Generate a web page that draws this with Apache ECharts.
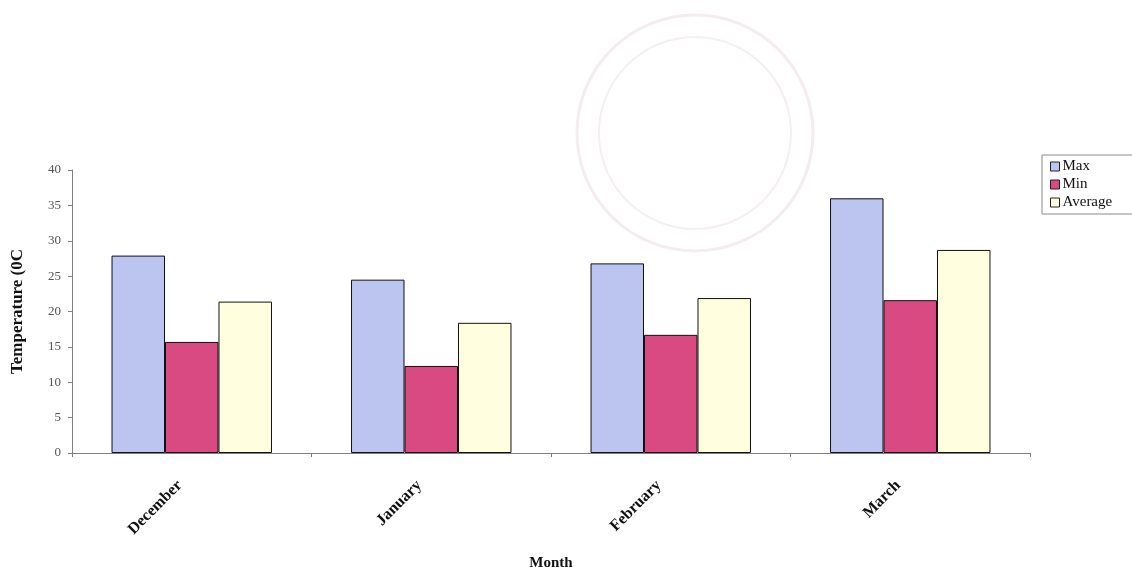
<!DOCTYPE html>
<html>
<head>
<meta charset="utf-8">
<script src="https://cdn.jsdelivr.net/npm/echarts@6/dist/echarts.min.js"></script>
<style>
  html, body { margin: 0; padding: 0; background: #fff; }
  #chart { width: 1132px; height: 569px; }
</style>
</head>
<body>
<div id="chart"></div>
<script>
// Monthly temperatures (°C)
const months = ['December', 'January', 'February', 'March'];
const maxTemp = [27.9, 24.5, 26.8, 36.0];
const minTemp = [15.7, 12.3, 16.7, 21.6];
const avgTemp = [21.4, 18.4, 21.9, 28.7];
const yTicks = { min: 0, max: 40, interval: 5 };

const serif = '"Liberation Serif", "DejaVu Serif", serif';

const chart = echarts.init(document.getElementById('chart'), null, { renderer: 'canvas' });

function barSeries(name, data, color) {
  return {
    name: name,
    type: 'bar',
    data: data,
    barGap: '0%',
    barCategoryGap: '33%',
    itemStyle: { color: color, borderColor: '#111', borderWidth: 1 },
    emphasis: { disabled: true }
  };
}

chart.setOption({
  animation: false,
  backgroundColor: '#ffffff',
  graphic: [
    // faint rubber stamp in the background
    { type: 'circle', z: -10, shape: { cx: 695, cy: 133, r: 118 },
      style: { fill: 'none', stroke: '#f4ecf0', lineWidth: 3 } },
    { type: 'circle', z: -10, shape: { cx: 695, cy: 133, r: 96 },
      style: { fill: 'none', stroke: '#f5eef2', lineWidth: 2 } }
  ],
  legend: {
    orient: 'vertical',
    left: 1042,
    top: 155,
    padding: [4, 24, 4, 8],
    itemGap: 3,
    itemWidth: 9,
    itemHeight: 9,
    icon: 'rect',
    borderColor: '#8a8a8a',
    borderWidth: 1,
    textStyle: { fontFamily: serif, fontSize: 15, color: '#111', padding: [0, 0, 0, -2] },
    data: ['Max', 'Min', 'Average'],
    itemStyle: { borderColor: '#222', borderWidth: 1 }
  },
  grid: { left: 72, right: 102, top: 170, bottom: 116, containLabel: false, outerBoundsMode: 'none' },
  xAxis: {
    type: 'category',
    data: months,
    name: 'Month',
    nameLocation: 'middle',
    nameGap: 103,
    nameTextStyle: { fontFamily: serif, fontSize: 15, fontWeight: 'bold', color: '#111' },
    axisLine: { lineStyle: { color: '#808080', width: 1 } },
    axisTick: { show: true, length: 4, lineStyle: { color: '#808080' } },
    axisLabel: {
      rotate: 45,
      margin: 18,
      padding: [0, 17, 0, 0],
      fontFamily: serif,
      fontSize: 16,
      fontWeight: 700,
      color: '#111'
    },
    splitLine: { show: false }
  },
  yAxis: {
    type: 'value',
    min: yTicks.min,
    max: yTicks.max,
    interval: yTicks.interval,
    name: 'Temperature (0C',
    nameLocation: 'middle',
    nameGap: 46,
    nameRotate: 90,
    nameTextStyle: { fontFamily: serif, fontSize: 17, fontWeight: 'bold', color: '#111' },
    axisLine: { show: true, lineStyle: { color: '#808080', width: 1 } },
    axisTick: { show: true, length: 4, lineStyle: { color: '#808080' } },
    axisLabel: { fontFamily: serif, fontSize: 13, color: '#555', margin: 11 },
    splitLine: { show: false }
  },
  series: [
    barSeries('Max', maxTemp, '#bcc4f0'),
    barSeries('Min', minTemp, '#d94a82'),
    barSeries('Average', avgTemp, '#ffffe0')
  ]
});
</script>
</body>
</html>
